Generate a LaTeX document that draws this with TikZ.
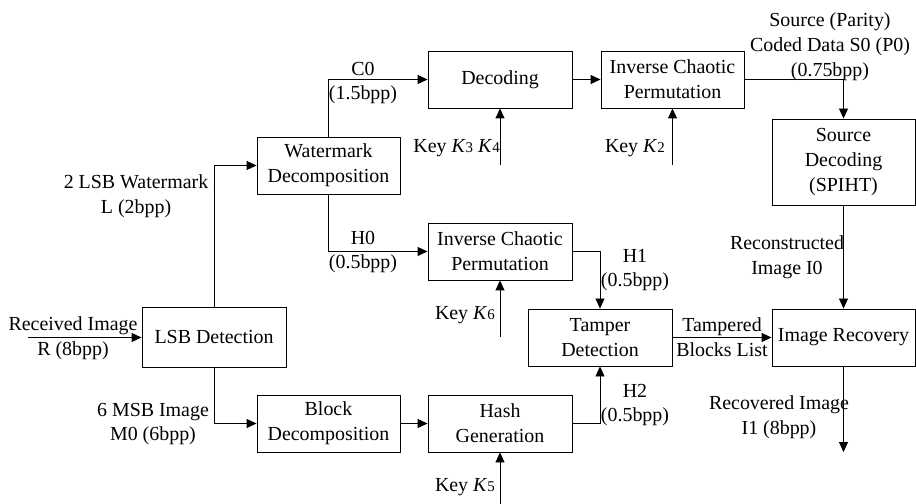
\documentclass[tikz,border=0pt]{standalone}
\usepackage{fontspec}
\setmainfont{Liberation Serif}
\usetikzlibrary{arrows.meta}
\newcommand{\kk}[1]{\textit{K}{\fontsize{15}{15}\selectfont #1}}
\begin{document}
\begin{tikzpicture}[x=1bp,y=-1bp,
  every node/.style={font=\fontsize{20}{25}\selectfont, align=center},
  blk/.style={draw, line width=0.9bp, inner sep=0pt, minimum width=144bp, minimum height=57bp},
  arr/.style={draw, line width=0.9bp, -{Triangle[length=10bp,width=9bp]}},
  lbl/.style={inner sep=1bp}]
\useasboundingbox (0,0) rectangle (916,504);
% boxes
\node[blk] (lsb) at (214,337.5) [minimum height=60bp] {LSB Detection};
\node[blk, minimum width=143bp] (wm) at (328.5,165.5) {Watermark\\Decomposition};
\node[blk] (dec) at (500,79.5) {Decoding};
\node[blk, minimum width=143bp] (icp1) at (672.5,79.5) {Inverse Chaotic\\Permutation};
\node[blk, minimum width=143bp, minimum height=86bp] (sd) at (843.5,162) {Source\\Decoding\\(SPIHT)};
\node[blk] (icp2) at (500,251.5) {Inverse Chaotic\\Permutation};
\node[blk, minimum width=143bp] (bd) at (328.5,423.5) {Block\\Decomposition};
\node[blk] (hg) at (500,423.5) {Hash\\Generation};
\node[blk] (td) at (600,337.5) {Tamper\\Detection};
\node[blk, minimum width=143bp] (ir) at (843.5,337.5) {Image Recovery};
% free ends
\coordinate (rin) at (28,337.5);
\coordinate (k34) at (500,165);
\coordinate (k2) at (672.5,165);
\coordinate (k6) at (500,337);
\coordinate (k5) at (500,504);
\coordinate (rout) at (843.5,452);
% connectors
\draw[arr] (rin) -- (lsb.west);
\draw[arr] (lsb.north) |- (wm.west);
\draw[arr] (lsb.south) |- (bd.west);
\draw[arr] (wm.north) |- (dec.west);
\draw[arr] (wm.south) |- (icp2.west);
\draw[arr] (dec.east) -- (icp1.west);
\draw[arr] (icp1.east) -| (sd.north);
\draw[arr] (sd.south) -- (ir.north);
\draw[arr] (icp2.east) -| (td.north);
\draw[arr] (bd.east) -- (hg.west);
\draw[arr] (hg.east) -| (td.south);
\draw[arr] (td.east) -- (ir.west);
\draw[arr] (ir.south) -- (rout);
\draw[arr] (k34) -- (dec.south);
\draw[arr] (k2) -- (icp1.south);
\draw[arr] (k6) -- (icp2.south);
\draw[arr] (k5) -- (hg.south);
% labels
\node[lbl] (lc0) at (363,83) {C0\\(1.5bpp)};
\node[lbl] (lh0) at (363,252) {H0\\(0.5bpp)};
\node[lbl] (llsb) at (136,196) {2 LSB Watermark\\L (2bpp)};
\node[lbl] (lmsb) at (153,424) {6 MSB Image\\M0 (6bpp)};
\node[lbl] (lrin) at (73,338) {Received Image\\R (8bpp)};
\node[lbl, anchor=east] (lk34) at (501,148) {Key \kk{3} \kk{4}};
\node[lbl, anchor=east] (lk2) at (666,148) {Key \kk{2}};
\node[lbl, anchor=east] (lk6) at (496,315) {Key \kk{6}};
\node[lbl, anchor=east] (lk5) at (496,487) {Key \kk{5}};
\node[lbl] (lsrc) at (830,47) {Source (Parity)\\Coded Data S0 (P0)\\(0.75bpp)};
\node[lbl] (lrec) at (787,257) {Reconstructed\\Image I0};
\node[lbl] (lh1) at (635,270) {H1\\(0.5bpp)};
\node[lbl] (lh2) at (635,405) {H2\\(0.5bpp)};
\node[lbl] (ltb) at (722,337.5) {Tampered\\Blocks List};
\node[lbl] (lri) at (779,417) {Recovered Image\\I1 (8bpp)};
\end{tikzpicture}
\end{document}
